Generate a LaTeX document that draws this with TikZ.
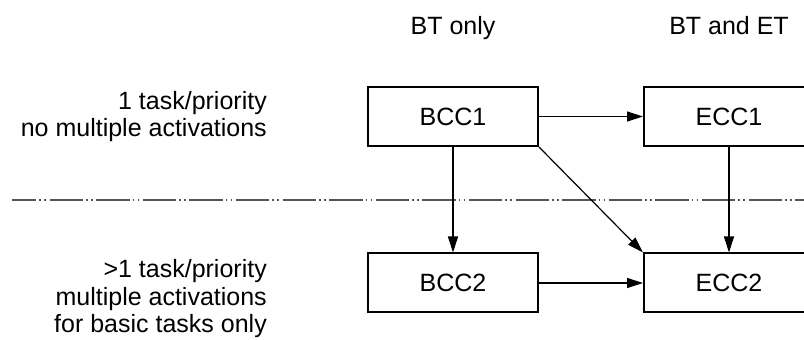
\documentclass[tikz,border=0pt]{standalone}
\usepackage{fontspec}
\setmainfont{Liberation Sans}
\usetikzlibrary{arrows.meta}
\definecolor{sepgrey}{HTML}{555555}
\begin{document}
\begin{tikzpicture}[x=1pt,y=1pt,
  every node/.style={font=\fontsize{25}{27.8}\selectfont},
  ccbox/.style={draw=black, line width=2pt, minimum width=170pt, minimum height=59pt, inner sep=0pt},
  conn/.style={line width=1.2pt, -{Triangle[length=16pt,width=10pt]}},
  lbl/.style={inner sep=0pt, align=right, anchor=base east},
  hdr/.style={inner sep=0pt, anchor=base}]
\useasboundingbox (0,0) rectangle (804,340);
\clip (0,0) rectangle (804,340);
\fill[white] (0,0) rectangle (804,340);
% separator
\coordinate (sepL) at (12,140);
\coordinate (sepR) at (804,140);
\draw[sepgrey, line width=1.6pt, dash pattern=on 33.3pt off 3pt on 1.7pt off 3.3pt on 1.7pt off 3.6pt, dash phase=9pt] (sepL) -- (sepR);
% headers
\node[hdr] (hbt) at (453,305) {BT only};
\node[hdr] (het) at (729,305) {BT and ET};
% row labels
\node[lbl] (l1) at (267,203) {1 task/priority\\no multiple activations};
\node[lbl] (l2) at (267,7) {>1 task/priority\\multiple activations\\for basic tasks only};
% boxes
\node[ccbox] (bcc1) at (453,223.5) {BCC1};
\node[ccbox] (ecc1) at (729,223.5) {ECC1};
\node[ccbox] (bcc2) at (453,57) {BCC2};
\node[ccbox] (ecc2) at (729,57) {ECC2};
% connectors
\draw[conn] (bcc1.east) -- (ecc1.west);
\draw[conn] (bcc2.east) -- (ecc2.west);
\draw[conn] (bcc1.south) -- (bcc2.north);
\draw[conn] (ecc1.south) -- (ecc2.north);
\draw[conn] (bcc1.south east) -- (ecc2.north west);
\end{tikzpicture}
\end{document}
